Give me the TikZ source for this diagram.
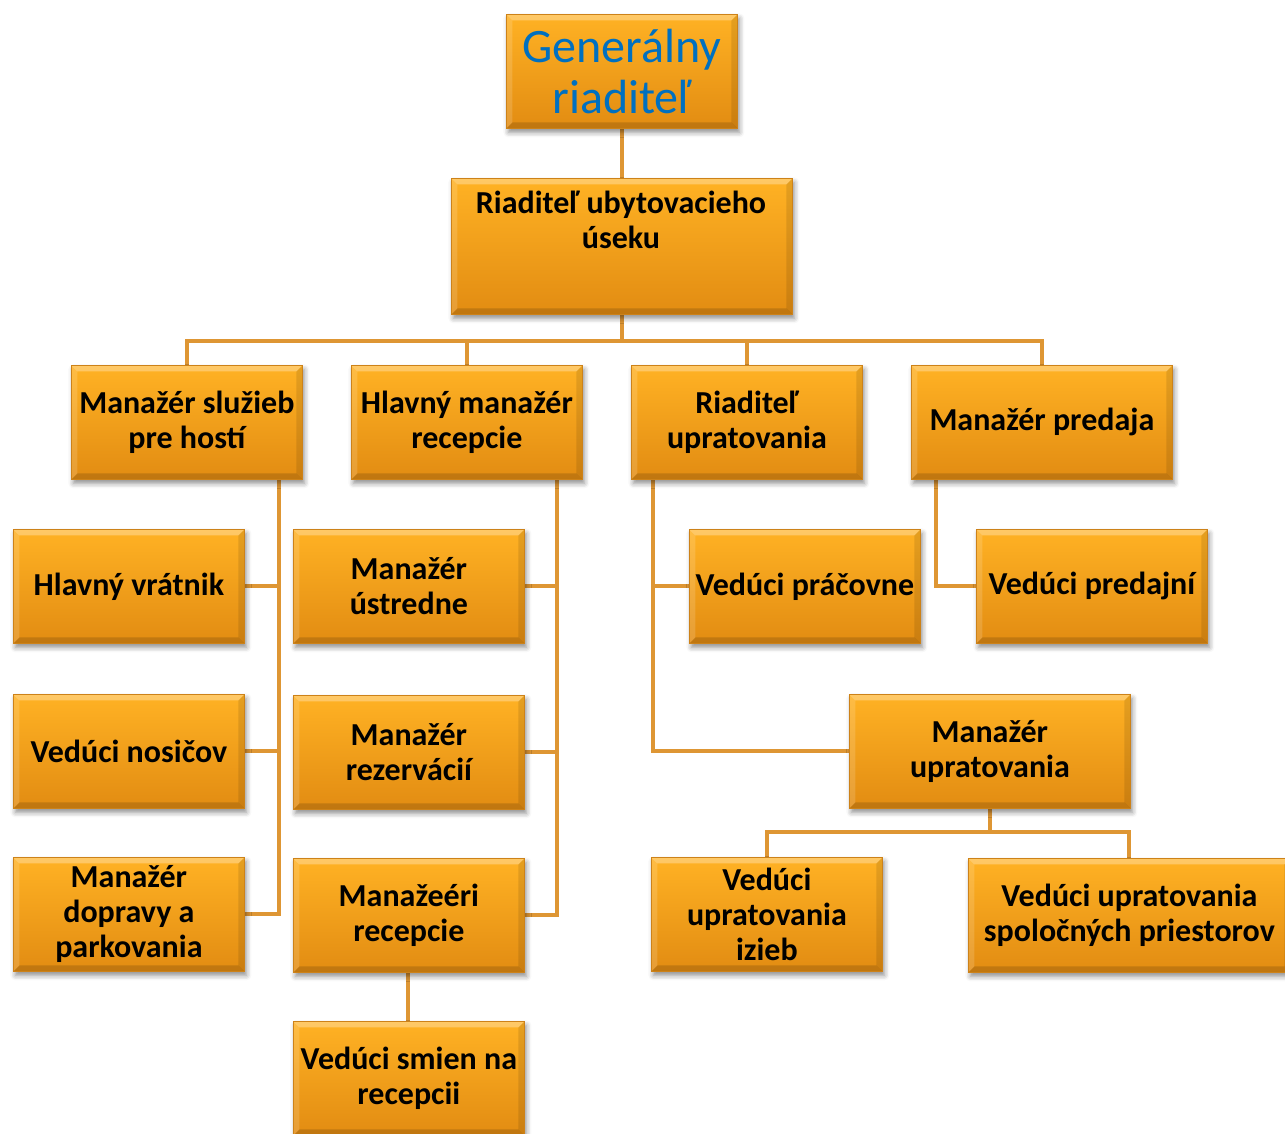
\documentclass[tikz,border=0pt]{standalone}
\usepackage{fontspec}
\setmainfont{Carlito}
\usetikzlibrary{shadows.blur,backgrounds}

\definecolor{boxtop}{RGB}{255,178,36}
\definecolor{boxbot}{RGB}{226,140,18}
\definecolor{boxedge}{RGB}{205,130,25}
\definecolor{linkc}{RGB}{222,150,52}
\definecolor{titleblue}{RGB}{0,112,192}

\tikzset{
  label font/.style={font=\bfseries\fontsize{32}{35}\selectfont},
  box/.style={rectangle, anchor=north west, inner sep=0pt, align=center,
    top color=boxtop, bottom color=boxbot, draw=boxedge, line width=0.8pt,
    label font,
    blur shadow={shadow xshift=2pt, shadow yshift=-4pt, shadow blur radius=5pt, shadow opacity=45},
    path picture={
      \fill[white,opacity=0.30] (path picture bounding box.north west) -- (path picture bounding box.north east)
        -- ([xshift=-6pt,yshift=-6pt]path picture bounding box.north east) -- ([xshift=6pt,yshift=-6pt]path picture bounding box.north west) -- cycle;
      \fill[white,opacity=0.15] (path picture bounding box.north west) -- ([xshift=6pt,yshift=-6pt]path picture bounding box.north west)
        -- ([xshift=6pt,yshift=6pt]path picture bounding box.south west) -- (path picture bounding box.south west) -- cycle;
      \fill[black,opacity=0.15] (path picture bounding box.south west) -- (path picture bounding box.south east)
        -- ([xshift=-6pt,yshift=6pt]path picture bounding box.south east) -- ([xshift=6pt,yshift=6pt]path picture bounding box.south west) -- cycle;
      \fill[black,opacity=0.10] (path picture bounding box.north east) -- ([xshift=-6pt,yshift=-6pt]path picture bounding box.north east)
        -- ([xshift=-6pt,yshift=6pt]path picture bounding box.south east) -- (path picture bounding box.south east) -- cycle;
    }},
  std/.style={box, minimum width=231pt, minimum height=114pt},
  link/.style={draw=linkc, line width=4pt}
}

\begin{document}
\begin{tikzpicture}[x=1pt,y=-1pt]
\useasboundingbox (0,0) rectangle (1285,1133);
\clip (0,0) rectangle (1285,1133);

% top of the chart
\node[box, minimum width=231pt, minimum height=114pt, text=titleblue,
      font=\fontsize{48}{51}\selectfont] (gr) at (506,14) {Generálny\\riaditeľ};
\node[box, minimum width=341pt, minimum height=136pt] (rub) at (451,178) {};
\node[label font, align=center, inner sep=0pt] (rubt) at (621,220) {Riaditeľ ubytovacieho\\úseku};

% second level
\node[std] (m1) at (71,365) {Manažér služieb\\pre hostí};
\node[std] (m2) at (351,365) {Hlavný manažér\\recepcie};
\node[std] (m3) at (631,365) {Riaditeľ\\upratovania};
\node[std, minimum width=261pt] (m4) at (911,365) {Manažér predaja};

% guest services
\node[std] (a1) at (13,529) {Hlavný vrátnik};
\node[std] (a2) at (13,694) {Vedúci nosičov};
\node[std] (a3) at (13,857) {Manažér\\dopravy a\\parkovania};

% front office
\node[std] (b1) at (293,529) {Manažér\\ústredne};
\node[std] (b2) at (293,695) {Manažér\\rezervácií};
\node[std] (b3) at (293,858) {Manažeéri\\recepcie};
\node[std] (b4) at (293,1021) {Vedúci smien na\\recepcii};

% housekeeping
\node[std] (c1) at (689,529) {Vedúci práčovne};
\node[std, minimum width=281pt] (c2) at (849,694) {Manažér\\upratovania};
\node[std] (c3) at (651,857) {Vedúci\\upratovania\\izieb};
\node[std, minimum width=322pt] (c4) at (968,858) {Vedúci upratovania\\spoločných priestorov};

% sales
\node[std] (d1) at (976,529) {Vedúci predajní};

% connectors
\coordinate (bus) at ([yshift=-26pt]rub.south);
\coordinate (s1) at (279,479);
\coordinate (s2) at (557,479);
\coordinate (s3) at (653,479);
\coordinate (s4) at (936,479);
\coordinate (bus2) at ([yshift=-23pt]c2.south);
\begin{scope}[on background layer]
  \draw[link] (gr.south) -- (rub.north);
  \draw[link] (rub.south) -- (bus);
  \draw[link] (bus) -| (m1.north);
  \draw[link] (bus) -| (m2.north);
  \draw[link] (bus) -| (m3.north);
  \draw[link] (bus) -| (m4.north);
  \draw[link] (s1) |- (a1.east);
  \draw[link] (s1) |- (a2.east);
  \draw[link] (s1) |- (a3.east);
  \draw[link] (s2) |- (b1.east);
  \draw[link] (s2) |- (b2.east);
  \draw[link] (s2) |- (b3.east);
  \draw[link] (b3.south -| 408,0) -- (b4.north -| 408,0);
  \draw[link] (s3) |- (c1.west);
  \draw[link] (s3) |- (c2.west);
  \draw[link] (s4) |- (d1.west);
  \draw[link] (c2.south) -- (bus2);
  \draw[link] (bus2) -| (c3.north);
  \draw[link] (bus2) -| (c4.north -| 1129,0);
\end{scope}
\end{tikzpicture}
\end{document}
